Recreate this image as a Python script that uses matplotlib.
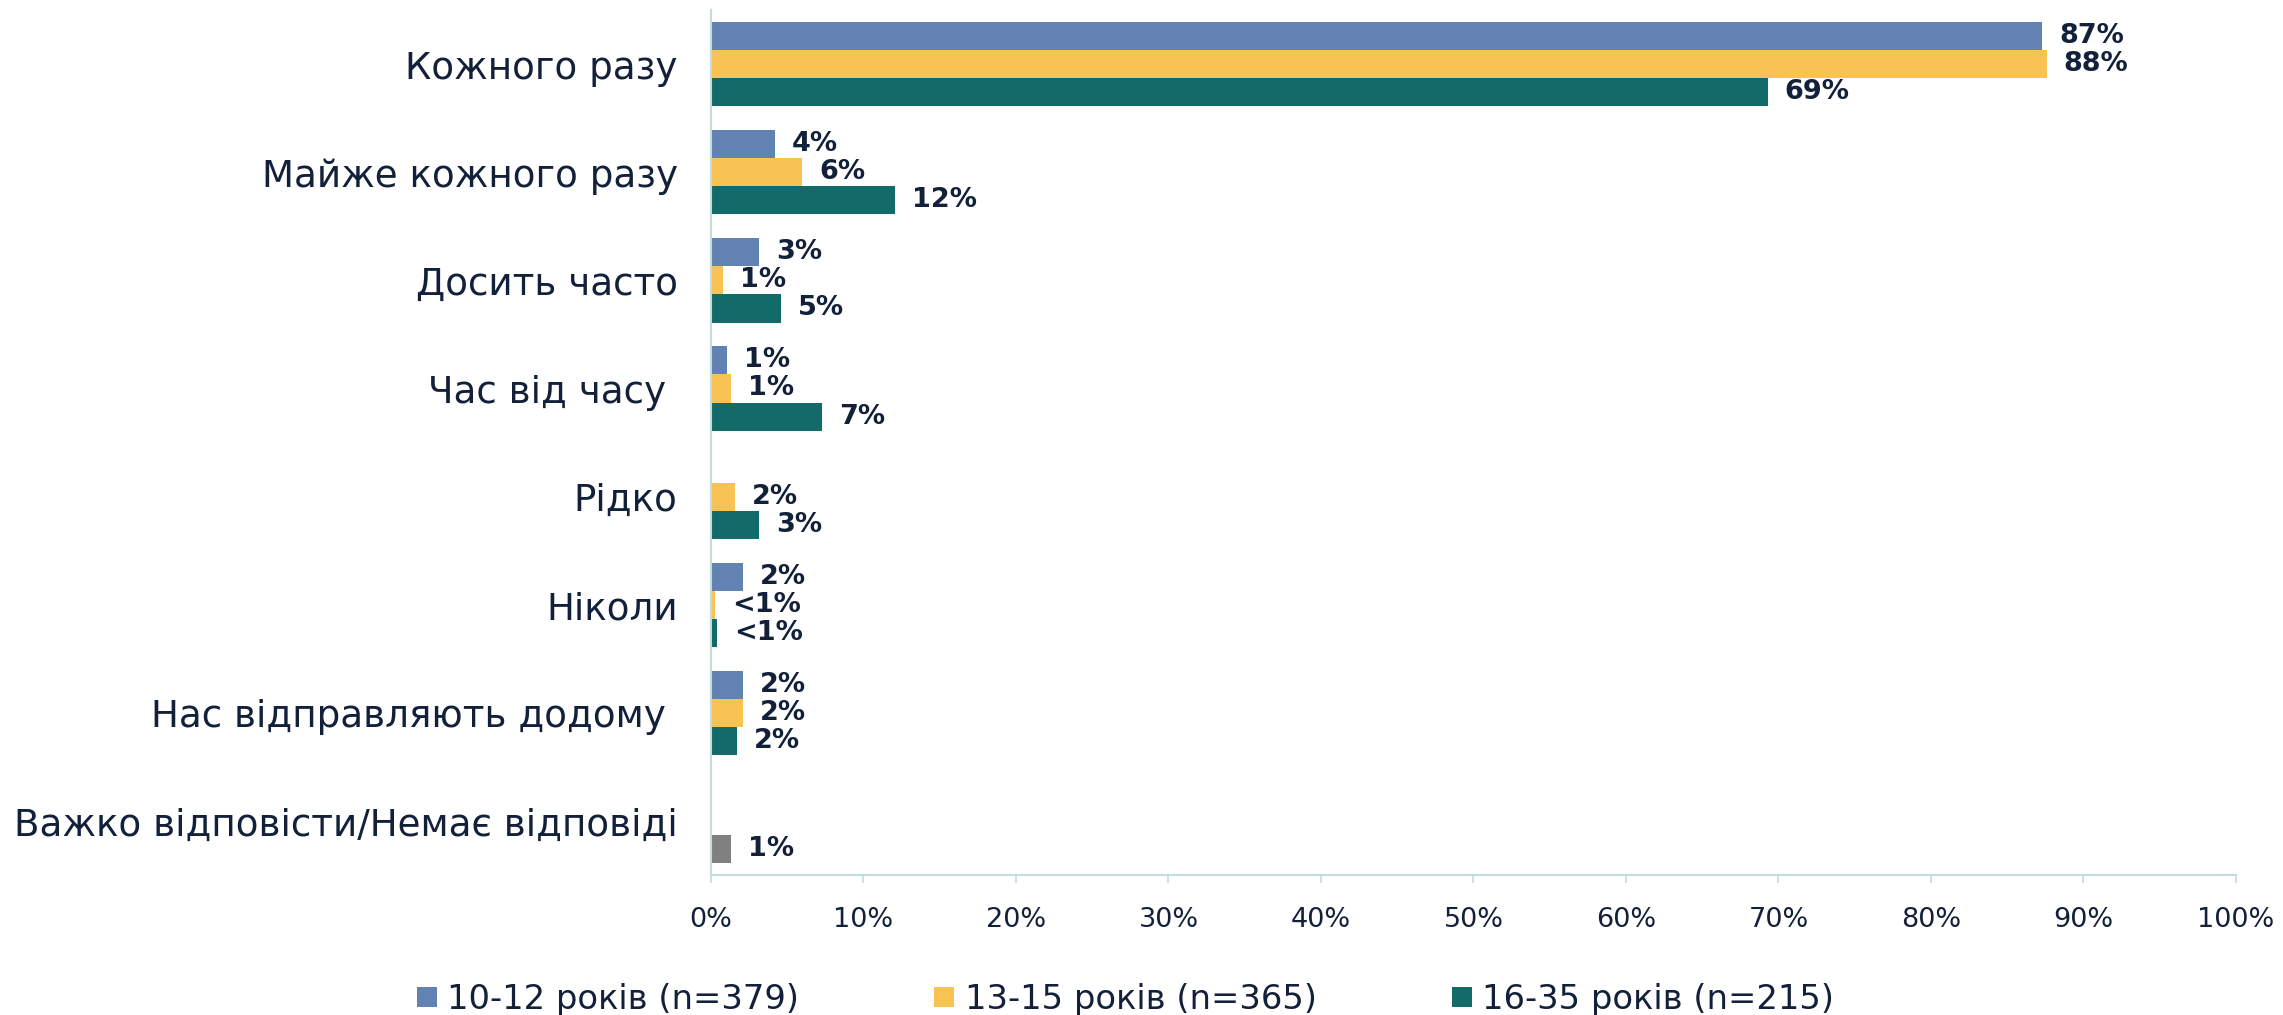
import matplotlib
matplotlib.use("Agg")
import matplotlib.pyplot as plt
from matplotlib.lines import Line2D
import numpy as np

categories = ["Кожного разу", "Майже кожного разу", "Досить часто", "Час від часу ",
              "Рідко", "Ніколи", "Нас відправляють додому ", "Важко відповісти/Немає відповіді"]
series_names = ["10-12 років (n=379)", "13-15 років (n=365)", "16-35 років (n=215)"]
v_10_12 = [87.3, 4.2, 3.15, 1.05, 0.0, 2.1, 2.1, 0.0]
v_13_15 = [87.6, 6.0, 0.8, 1.3, 1.6, 0.26, 2.1, 0.0]
v_16_35 = [69.3, 12.1, 4.6, 7.3, 3.15, 0.4, 1.7, 1.3]
lab_10_12 = ["87%", "4%", "3%", "1%", "", "2%", "2%", ""]
lab_13_15 = ["88%", "6%", "1%", "1%", "2%", "<1%", "2%", ""]
lab_16_35 = ["69%", "12%", "5%", "7%", "3%", "<1%", "2%", "1%"]
x_ticks = [0, 10, 20, 30, 40, 50, 60, 70, 80, 90, 100]

c_blue = "#6182b2"
c_yellow = "#f9c353"
c_teal = "#126a69"
c_grey = "#808080"
c_text = "#13203a"
c_axis = "#c5dcdc"

plt.rcParams['font.family'] = ['DejaVu Sans']

fig = plt.figure(figsize=(22.83, 10.15), dpi=100)
ax = fig.add_axes([0.3114, 0.138, 0.9794 - 0.3114, 0.852])

y = np.arange(len(categories))
h = 0.26
teal_colors = [c_teal] * (len(categories) - 1) + [c_grey]
series = [(v_10_12, lab_10_12, [c_blue] * len(categories), -h),
          (v_13_15, lab_13_15, [c_yellow] * len(categories), 0.0),
          (v_16_35, lab_16_35, teal_colors, h)]
for vals, labs, cols, off in series:
    bars = ax.barh(y + off, vals, height=h, color=cols, linewidth=0)
    for b, v, t in zip(bars, vals, labs):
        if t:
            ax.annotate(t, xy=(v, b.get_y() + b.get_height() / 2), xytext=(17, 0),
                        textcoords="offset pixels", va="center", ha="left",
                        fontsize=19.5, fontweight="bold", color=c_text)

ax.set_xlim(0, 100)
ax.set_ylim(7.5, -0.5)
ax.set_xticks(x_ticks)
ax.set_xticklabels([f"{t}%" for t in x_ticks])
ax.set_yticks(y)
ax.set_yticklabels(categories)
ax.tick_params(axis="y", length=0, pad=24, labelsize=26.8, labelcolor=c_text)
ax.tick_params(axis="x", length=6, width=1.2, color=c_axis, pad=17, labelsize=19.5, labelcolor=c_text)
for s in ["top", "right"]:
    ax.spines[s].set_visible(False)
for s in ["left", "bottom"]:
    ax.spines[s].set_color(c_axis)
    ax.spines[s].set_linewidth(1.5)

handles = [Line2D([], [], marker="s", linestyle="none", markersize=14, markerfacecolor=c,
                  markeredgewidth=0) for c in [c_blue, c_yellow, c_teal]]
fig.legend(handles, series_names, loc="center", bbox_to_anchor=(0.4915, 0.015), ncol=3,
           frameon=False, fontsize=24.3, handletextpad=0.1, columnspacing=3.8,
           labelcolor=c_text, handlelength=1.0)

fig.savefig("out.png", dpi=100)
